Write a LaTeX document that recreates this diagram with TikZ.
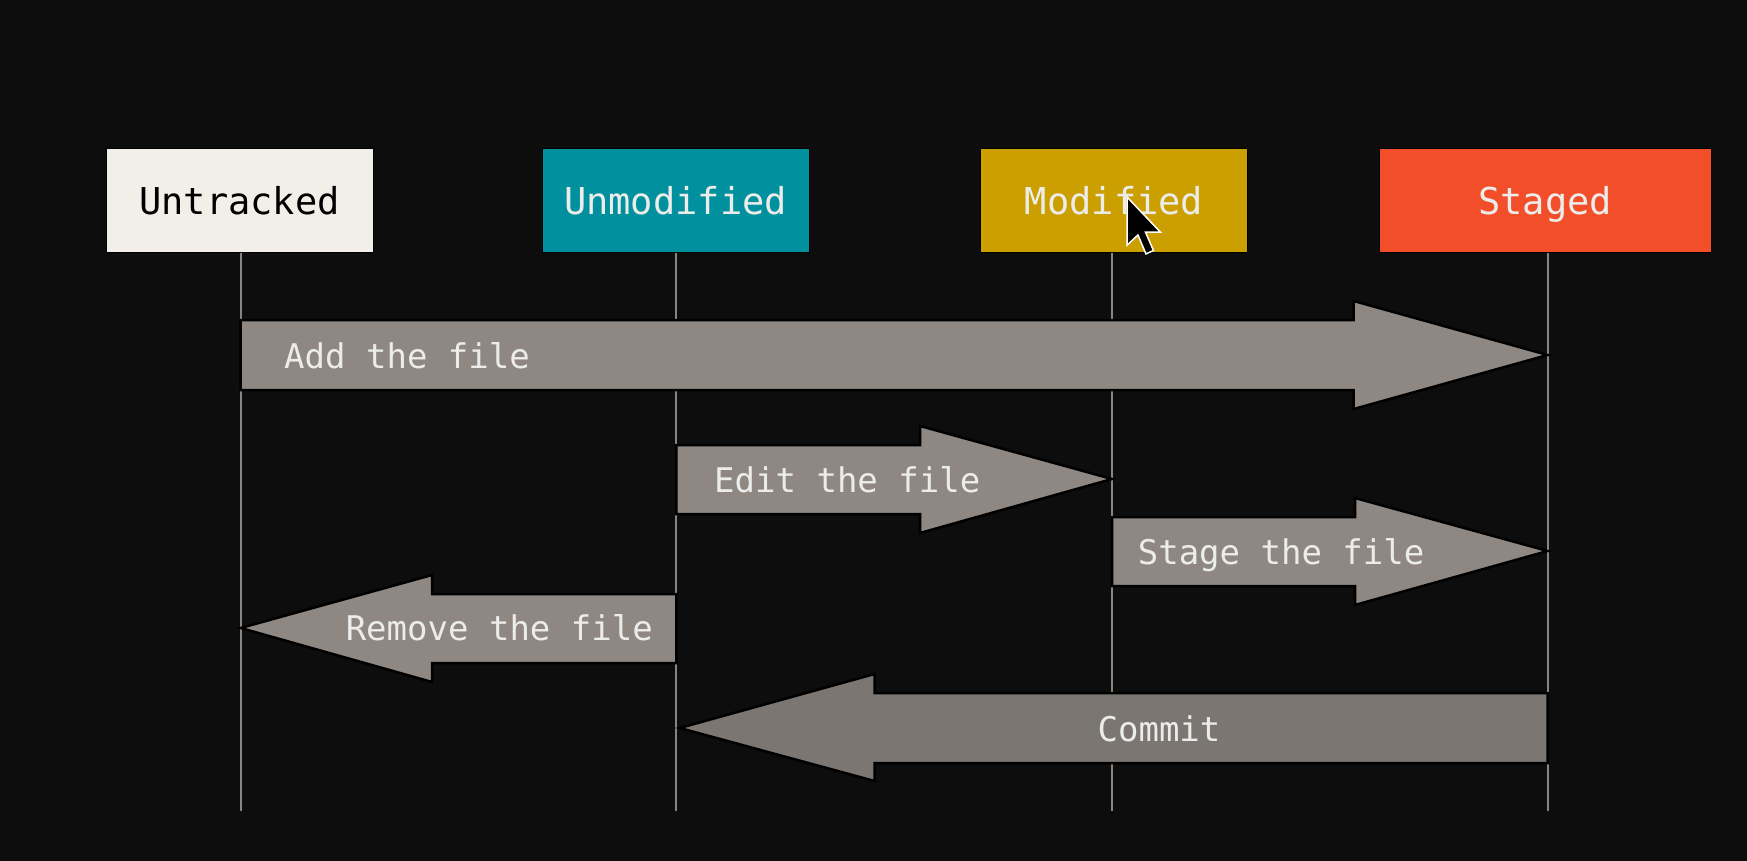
\documentclass[tikz,border=0pt]{standalone}
\usepackage{fontspec}
\setmonofont{DejaVu Sans Mono}
\usetikzlibrary{calc}
\definecolor{bg}{HTML}{0D0D0D}
\definecolor{untr}{HTML}{F2EFE9}
\definecolor{unmod}{HTML}{00909E}
\definecolor{modi}{HTML}{CC9F00}
\definecolor{stag}{HTML}{F24E2A}
\definecolor{arrgray}{HTML}{8E8782}
\definecolor{commitgray}{HTML}{7C7672}
\definecolor{lifegray}{HTML}{8A8580}
\definecolor{txtlight}{HTML}{ECECEA}
\tikzset{
  statebox/.style={draw=black, line width=1pt, minimum height=103pt, inner sep=0pt,
    text height=28pt, text depth=0pt,
    font=\ttfamily\fontsize{37}{40}\selectfont},
  lifeline/.style={draw=lifegray, line width=2.2pt},
  blockarrow/.style={draw=black, line width=2.5pt, line join=miter},
  arrtext/.style={inner sep=0pt, text=txtlight, text height=26pt, text depth=0pt,
    font=\ttfamily\fontsize{34}{38}\selectfont},
}
\begin{document}
\begin{tikzpicture}[x=1pt,y=-1pt]
\fill[bg] (0,0) rectangle (1747,861);
\useasboundingbox (0,0) rectangle (1747,861);

% state boxes
\node[statebox, fill=untr, text=black, minimum width=267pt] (untracked) at (239.5,200.5) {Untracked};
\node[statebox, fill=unmod, text=txtlight, minimum width=267pt] (unmodified) at (675.5,200.5) {Unmodified};
\node[statebox, fill=modi, text=txtlight, minimum width=267pt] (modified) at (1114,200.5) {Modified};
\node[statebox, fill=stag, text=txtlight, minimum width=332pt] (staged) at (1545,200.5) {Staged};

% lifeline ends
\coordinate (uend) at (240.7,811);
\coordinate (umend) at (676.3,811);
\coordinate (mend) at (1112,811);
\coordinate (send) at (1547.6,811);
\draw[lifeline] (untracked.south -| uend) -- (uend);
\draw[lifeline] (unmodified.south -| umend) -- (umend);
\draw[lifeline] (modified.south -| mend) -- (mend);
\draw[lifeline] (staged.south -| send) -- (send);

% Add the file
\draw[blockarrow, fill=arrgray] (240.7,320) -- (1353.7,320) -- (1353.7,301) -- (1547.6,355)
  -- (1353.7,409) -- (1353.7,390) -- (240.7,390) -- cycle;
\node[arrtext, anchor=west] (add) at (284,355) {Add the file};

% Edit the file
\draw[blockarrow, fill=arrgray] (676.3,445) -- (920,445) -- (920,426) -- (1112,479)
  -- (920,533) -- (920,514) -- (676.3,514) -- cycle;
\node[arrtext, anchor=west] (edit) at (714,479) {Edit the file};

% Stage the file
\draw[blockarrow, fill=arrgray] (1112,517) -- (1355,517) -- (1355,498) -- (1547.6,551)
  -- (1355,605) -- (1355,586) -- (1112,586) -- cycle;
\node[arrtext, anchor=west] (stage) at (1137.6,551) {Stage the file};

% Remove the file
\draw[blockarrow, fill=arrgray] (676.3,594) -- (432,594) -- (432,575) -- (240.7,628)
  -- (432,682) -- (432,663) -- (676.3,663) -- cycle;
\node[arrtext, anchor=east] (remove) at (653,627) {Remove the file};

% Commit
\draw[blockarrow, fill=commitgray] (1547.6,693) -- (874.6,693) -- (874.6,674) -- (679.7,728)
  -- (874.6,781) -- (874.6,763) -- (1547.6,763) -- cycle;
\node[arrtext] (commit) at (1159,728) {Commit};

% mouse cursor
\begin{scope}[shift={(1127,197)}, scale=1.15]
\draw[fill=black, draw=white, line width=1.5pt, line join=miter]
  (0,0) -- (0,42) -- (9.5,33) -- (16.5,49.5) -- (23,46.5) -- (16,30.5) -- (29,30.5) -- cycle;
\end{scope}
\end{tikzpicture}
\end{document}
